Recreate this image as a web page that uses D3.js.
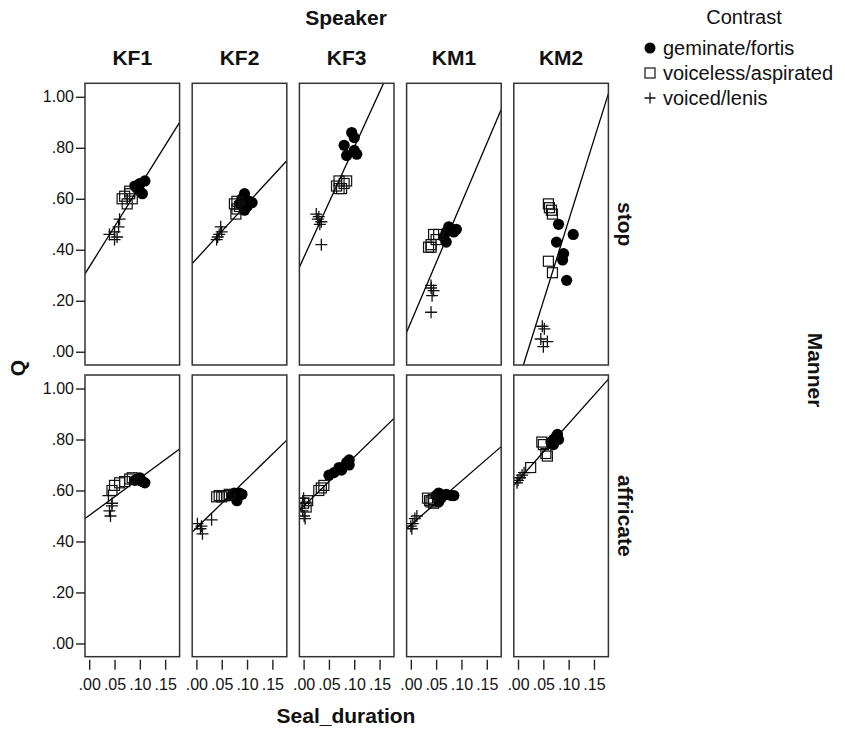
<!DOCTYPE html>
<html>
<head>
<meta charset="utf-8">
<script src="https://cdn.jsdelivr.net/npm/d3@7"></script>
<style>
  body { margin: 0; background: #fff; }
  text { font-family: "Liberation Sans", Arial, sans-serif; fill: #111; }
</style>
</head>
<body>
<div id="chart"></div>
<script>
const speakers = ['KF1', 'KF2', 'KF3', 'KM1', 'KM2']
const manners = ['stop', 'affricate']
const contrasts = ['geminate/fortis', 'voiceless/aspirated', 'voiced/lenis']
const xTicks = [0, 0.05, 0.10, 0.15]
const yTicks = [0, 0.2, 0.4, 0.6, 0.8, 1.0]

// points per speaker, [Seal_duration, Q]
const stopFortis = [
  [[0.095, 0.64], [0.10, 0.66], [0.105, 0.62], [0.11, 0.67], [0.10, 0.63], [0.09, 0.65]],
  [[0.085, 0.58], [0.09, 0.60], [0.095, 0.62], [0.10, 0.57], [0.105, 0.59], [0.11, 0.585], [0.095, 0.555]],
  [[0.095, 0.86], [0.10, 0.84], [0.08, 0.81], [0.10, 0.79], [0.085, 0.77], [0.105, 0.775]],
  [[0.065, 0.45], [0.07, 0.47], [0.075, 0.49], [0.08, 0.48], [0.085, 0.47], [0.09, 0.48], [0.07, 0.43]],
  [[0.08, 0.50], [0.109, 0.46], [0.076, 0.43], [0.09, 0.385], [0.088, 0.36], [0.096, 0.28]]
]
const stopVoiceless = [
  [[0.065, 0.60], [0.07, 0.61], [0.08, 0.62], [0.075, 0.58], [0.085, 0.60], [0.08, 0.63]],
  [[0.075, 0.58], [0.08, 0.56], [0.078, 0.54], [0.085, 0.57], [0.08, 0.59]],
  [[0.065, 0.65], [0.07, 0.67], [0.075, 0.64], [0.08, 0.66], [0.085, 0.67], [0.07, 0.64]],
  [[0.035, 0.41], [0.04, 0.42], [0.045, 0.46], [0.05, 0.44], [0.055, 0.46], [0.04, 0.41]],
  [[0.06, 0.58], [0.062, 0.565], [0.066, 0.555], [0.068, 0.54], [0.06, 0.355], [0.068, 0.31]]
]
const stopVoiced = [
  [[0.04, 0.46], [0.05, 0.47], [0.055, 0.45], [0.05, 0.44], [0.06, 0.52], [0.058, 0.49]],
  [[0.04, 0.44], [0.045, 0.46], [0.05, 0.47], [0.048, 0.49], [0.042, 0.45]],
  [[0.025, 0.54], [0.03, 0.53], [0.028, 0.52], [0.035, 0.51], [0.032, 0.50], [0.035, 0.42]],
  [[0.04, 0.26], [0.045, 0.24], [0.042, 0.22], [0.04, 0.25], [0.04, 0.155]],
  [[0.048, 0.10], [0.052, 0.09], [0.045, 0.05], [0.058, 0.04], [0.05, 0.02]]
]
const affricateFortis = [
  [[0.09, 0.64], [0.095, 0.645], [0.10, 0.64], [0.105, 0.635], [0.11, 0.63], [0.10, 0.65]],
  [[0.07, 0.58], [0.075, 0.59], [0.08, 0.57], [0.085, 0.59], [0.08, 0.56], [0.09, 0.585]],
  [[0.05, 0.66], [0.06, 0.67], [0.07, 0.69], [0.075, 0.68], [0.085, 0.71], [0.09, 0.72], [0.09, 0.70]],
  [[0.05, 0.58], [0.055, 0.59], [0.06, 0.57], [0.055, 0.555], [0.07, 0.585], [0.08, 0.58], [0.085, 0.58]],
  [[0.065, 0.79], [0.07, 0.80], [0.075, 0.81], [0.078, 0.82], [0.07, 0.78], [0.08, 0.80]]
]
const affricateVoiceless = [
  [[0.045, 0.60], [0.05, 0.62], [0.06, 0.63], [0.07, 0.635], [0.08, 0.645], [0.085, 0.65]],
  [[0.04, 0.575], [0.045, 0.58], [0.05, 0.575], [0.055, 0.58], [0.06, 0.58], [0.065, 0.585]],
  [[0.0, 0.55], [0.005, 0.535], [0.008, 0.56], [0.03, 0.60], [0.035, 0.61], [0.04, 0.62]],
  [[0.033, 0.57], [0.037, 0.56], [0.04, 0.555], [0.044, 0.565], [0.045, 0.55]],
  [[0.047, 0.79], [0.055, 0.745], [0.058, 0.735], [0.025, 0.69], [0.05, 0.78]]
]
const affricateVoiced = [
  [[0.038, 0.58], [0.045, 0.54], [0.04, 0.52], [0.042, 0.50], [0.045, 0.55]],
  [[0.002, 0.47], [0.01, 0.46], [0.008, 0.45], [0.012, 0.43], [0.03, 0.485]],
  [[0.0, 0.57], [0.002, 0.55], [-0.002, 0.52], [0.001, 0.50], [0.003, 0.49]],
  [[0.0, 0.46], [0.002, 0.45], [0.004, 0.47], [0.008, 0.49], [0.012, 0.50]],
  [[0.0, 0.64], [0.004, 0.65], [-0.002, 0.63], [0.008, 0.66], [0.012, 0.67]]
]

// fit lines per speaker, [intercept, slope]
const stopFit = [[0.332, 3.18], [0.364, 2.16], [0.368, 4.34], [0.115, 4.68], [-0.119, 6.34]]
const affricateFit = [[0.502, 1.46], [0.453, 1.93], [0.538, 1.93], [0.465, 1.72], [0.639, 2.23]]

const points = {
  stop: [stopFortis, stopVoiceless, stopVoiced],
  affricate: [affricateFortis, affricateVoiceless, affricateVoiced]
}
const fits = { stop: stopFit, affricate: affricateFit }

const width = 845
const height = 731

const svg = d3.select('#chart')
  .append('svg')
  .attr('width', width)
  .attr('height', height)

const col = d3.scaleBand().domain(speakers).range([85, 608.4]).paddingInner(0.1176)
const row = d3.scaleBand().domain(manners).range([83.3, 656.7]).paddingInner(0.0343)
const pw = col.bandwidth()
const ph = row.bandwidth()

const x = d3.scaleLinear().domain([-0.0083, 0.1785]).range([0, pw])
const y = d3.scaleLinear().domain([-0.052, 1.053]).range([ph, 0])

const fmt = v => d3.format('.2f')(v).replace(/^0\./, '.')

const plus = s => `M${-s},0H${s}M0,${-s}V${s}`

const drawMark = (g, k, px, py) => {
  if (k === 0) {
    g.append('circle').attr('cx', px).attr('cy', py).attr('r', 5.6).attr('fill', '#000')
  } else if (k === 1) {
    g.append('rect').attr('x', px - 5).attr('y', py - 5).attr('width', 10).attr('height', 10)
      .attr('fill', 'none').attr('stroke', '#111').attr('stroke-width', 1.2)
  } else {
    g.append('path').attr('d', plus(6)).attr('transform', `translate(${px},${py})`)
      .attr('stroke', '#111').attr('stroke-width', 1.3).attr('fill', 'none')
  }
}

svg.append('defs').append('clipPath').attr('id', 'clip')
  .append('rect').attr('width', pw).attr('height', ph)

manners.forEach((m, r) => {
  speakers.forEach((s, c) => {
    const g = svg.append('g').attr('transform', `translate(${col(s)},${row(m)})`)
    const inner = g.append('g').attr('clip-path', 'url(#clip)')

    points[m].forEach((series, k) => {
      series[c].forEach(d => drawMark(inner, k, x(d[0]), y(d[1])))
    })

    const [b0, b1] = fits[m][c]
    const xd = x.domain()
    inner.append('line')
      .attr('x1', x(xd[0])).attr('y1', y(b0 + b1 * xd[0]))
      .attr('x2', x(xd[1])).attr('y2', y(b0 + b1 * xd[1]))
      .attr('stroke', '#000').attr('stroke-width', 1.3)

    g.append('rect').attr('width', pw).attr('height', ph)
      .attr('fill', 'none').attr('stroke', '#333').attr('stroke-width', 1.5)

    if (c === 0) {
      const ya = g.append('g')
        .call(d3.axisLeft(y).tickValues(yTicks).tickFormat(fmt).tickSize(9).tickPadding(2))
      ya.select('.domain').remove()
      ya.selectAll('line').attr('stroke', '#222').attr('stroke-width', 1.4)
      ya.selectAll('text').attr('font-size', 16).attr('fill', '#111')
    }
    if (r === 1) {
      const xa = g.append('g').attr('transform', `translate(0,${ph + 3})`)
        .call(d3.axisBottom(x).tickValues(xTicks).tickFormat(fmt).tickSize(10).tickPadding(9))
      xa.select('.domain').remove()
      xa.selectAll('line').attr('stroke', '#222').attr('stroke-width', 1.4)
      xa.selectAll('text').attr('font-size', 16).attr('fill', '#111')
    }
    if (r === 0) {
      svg.append('text')
        .attr('x', col(s) + pw / 2).attr('y', 65)
        .attr('text-anchor', 'middle')
        .attr('font-size', 21).attr('font-weight', 'bold')
        .text(s)
    }
  })

  svg.append('text')
    .attr('transform', `translate(625,${row(m) + ph / 2}) rotate(90)`)
    .attr('text-anchor', 'middle').attr('dy', '0.35em')
    .attr('font-size', 21).attr('font-weight', 'bold')
    .text(m)
})

svg.append('text')
  .attr('x', 346).attr('y', 25)
  .attr('text-anchor', 'middle')
  .attr('font-size', 21).attr('font-weight', 'bold')
  .text('Speaker')

svg.append('text')
  .attr('x', 346).attr('y', 723)
  .attr('text-anchor', 'middle')
  .attr('font-size', 21).attr('font-weight', 'bold')
  .text('Seal_duration')

svg.append('text')
  .attr('transform', 'translate(18,368) rotate(-90)')
  .attr('text-anchor', 'middle').attr('dy', '0.35em')
  .attr('font-size', 21).attr('font-weight', 'bold')
  .text('Q')

svg.append('text')
  .attr('transform', 'translate(815,370) rotate(90)')
  .attr('text-anchor', 'middle').attr('dy', '0.35em')
  .attr('font-size', 21).attr('font-weight', 'bold')
  .text('Manner')

// legend
const legend = svg.append('g')
legend.append('text')
  .attr('x', 744).attr('y', 24)
  .attr('text-anchor', 'middle')
  .attr('font-size', 20)
  .text('Contrast')

contrasts.forEach((name, k) => {
  const ly = 48 + k * 25
  if (k === 0) {
    legend.append('circle').attr('cx', 650).attr('cy', ly).attr('r', 5.5).attr('fill', '#000')
  } else if (k === 1) {
    legend.append('rect').attr('x', 645).attr('y', ly - 5).attr('width', 10).attr('height', 10)
      .attr('fill', 'none').attr('stroke', '#111').attr('stroke-width', 1.2)
  } else {
    legend.append('path').attr('d', plus(5.5)).attr('transform', `translate(650,${ly})`)
      .attr('stroke', '#111').attr('stroke-width', 1.3)
  }
  legend.append('text')
    .attr('x', 663).attr('y', ly).attr('dy', '0.35em')
    .attr('font-size', 20)
    .text(name)
})
</script>
</body>
</html>
